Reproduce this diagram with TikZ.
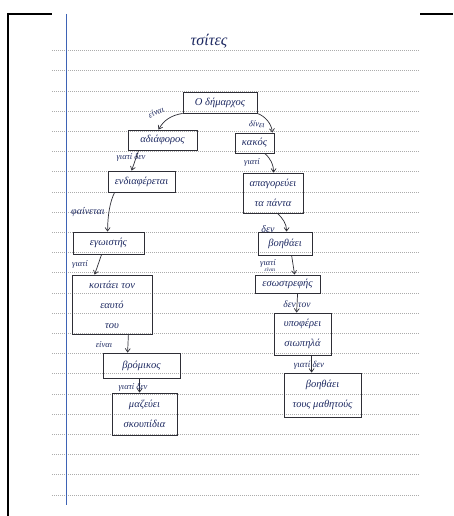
\documentclass[tikz,border=0pt]{standalone}
\usepackage{fontspec}
\setmainfont{Liberation Serif}
\usetikzlibrary{arrows.meta,calc}
\definecolor{ink}{HTML}{1E2A62}
\definecolor{margin}{HTML}{3E63B5}
\definecolor{boxline}{HTML}{2E2E36}
\tikzset{
  box/.style={draw=boxline, line width=0.8pt, text=ink, font=\itshape\fontsize{10.5}{20}\selectfont, align=center, inner sep=1pt},
  lbl/.style={text=ink, font=\itshape\fontsize{8.5}{8.5}\selectfont, inner sep=0.5pt},
  arr/.style={draw=boxline, line width=0.7pt, -{Straight Barb[length=3.5pt,width=5pt]}},
  ruled/.style={draw=gray!65, line width=0.5pt, dash pattern=on 1pt off 1pt}
}
\begin{document}
\begin{tikzpicture}[x=1pt,y=-1pt]
\useasboundingbox (0,0) rectangle (453,516);
\fill[white] (0,0) rectangle (453,516);
% ruled lines
\foreach \k in {0,...,22} {
  \draw[ruled] (52,{50.5+20.2*\k}) -- (420,{50.5+20.2*\k});
}
% frame
\draw[black, line width=2pt] (8,14) -- (52,14);
\draw[black, line width=2pt] (420,14) -- (453,14);
\draw[black, line width=2.5pt] (8,13) -- (8,516);
\draw[margin, line width=1.1pt] (66.5,14) -- (66.5,505);

% title
\node[text=ink, font=\itshape\fontsize{16}{16}\selectfont] (title) at (209,41) {τσίτες};

% boxes
\node[box, minimum width=74pt, minimum height=21pt] (b1) at (220,102.5) {Ο δήμαρχος};
\node[box, minimum width=69pt, minimum height=20pt] (b2) at (162.5,140) {αδιάφορος};
\node[box, minimum width=39pt, minimum height=20pt] (b3) at (254.5,143) {κακός};
\node[box, minimum width=67pt, minimum height=21pt] (b4) at (141.5,181.5) {ενδιαφέρεται};
\node[box, minimum width=60pt, minimum height=40pt] (b5) at (273,193) {απαγορεύει\\τα πάντα};
\node[box, minimum width=71pt, minimum height=22pt] (b6) at (108.5,243) {εγωιστής};
\node[box, minimum width=54pt, minimum height=23pt] (b7) at (285,243.5) {βοηθάει};
\node[box, minimum width=80pt, minimum height=59pt] (b8) at (112,304.5) {κοιτάει τον\\εαυτό\\του};
\node[box, minimum width=65pt, minimum height=18pt] (b9) at (287.5,284) {εσωστρεφής};
\node[box, minimum width=77pt, minimum height=25pt] (b10) at (141.5,365.5) {βρόμικος};
\node[box, minimum width=57pt, minimum height=42pt] (b11) at (302.5,334) {υποφέρει\\σιωπηλά};
\node[box, minimum width=65pt, minimum height=42pt] (b12) at (144.5,414) {μαζεύει\\σκουπίδια};
\node[box, minimum width=77pt, minimum height=44pt] (b13) at (322.5,395) {βοηθάει\\τους μαθητούς};

% connectors
\draw[arr] (b1.south west) .. controls +(-12,2) and +(5,-9) .. ($(b2.north)+(-4,0)$);
\draw[arr] (b1.south east) .. controls +(8,3) and +(-1,-9) .. ($(b3.north east)+(-2,0)$);
\draw[arr] ($(b2.south west)+(11,0)$) -- ($(b4.north west)+(24,0)$);
\draw[arr] ($(b4.south west)+(7,0)$) .. controls +(-5,10) and +(0,-15) .. ($(b6.north west)+(35,0)$);
\draw[arr] ($(b6.south west)+(29,0)$) -- ($(b8.north west)+(23,0)$);
\draw[arr] ($(b8.south east)+(-24,0)$) -- ($(b10.north west)+(25,0)$);
\draw[arr] ($(b10.south west)+(37,0)$) -- ($(b12.north west)+(28,0)$);
\draw[arr] ($(b3.south west)+(30,0)$) .. controls +(6,5) and +(0,-8) .. ($(b5.north west)+(31,0)$);
\draw[arr] ($(b5.south west)+(35,0)$) .. controls +(5,5) and +(0,-8) .. ($(b7.north west)+(29,0)$);
\draw[arr] ($(b7.south west)+(34,0)$) -- ($(b9.north west)+(40,0)$);
\draw[arr] ($(b9.south west)+(43,0)$) -- ($(b11.north west)+(23,0)$);
\draw[arr] ($(b11.south west)+(38,0)$) -- ($(b13.north west)+(28,0)$);

% labels
\node[lbl, rotate=25] (l1) at (156,112) {είναι};
\node[lbl, rotate=-6] (l2) at (257,124) {δίνει};
\node[lbl] (l3) at (131,157) {γιατί δεν};
\node[lbl, font=\itshape\fontsize{10}{10}\selectfont] (l4) at (88,212) {φαίνεται};
\node[lbl] (l5) at (80,264) {γιατί};
\node[lbl] (l6) at (104,345) {είναι};
\node[lbl] (l7) at (133,387) {γιατί δεν};
\node[lbl] (l8) at (252,162) {γιατί};
\node[lbl, font=\itshape\fontsize{10}{10}\selectfont] (l9) at (268,229) {δεν};
\node[lbl] (l10) at (268,263) {γιατί};
\node[lbl, font=\itshape\fontsize{5.5}{5.5}\selectfont] (l11) at (270,270) {είναι};
\node[lbl, font=\itshape\fontsize{9.5}{9.5}\selectfont] (l12) at (297,304) {δεν τον};
\node[lbl, font=\itshape\fontsize{9}{9}\selectfont] (l13) at (309,365) {γιατί δεν};
\end{tikzpicture}
\end{document}
